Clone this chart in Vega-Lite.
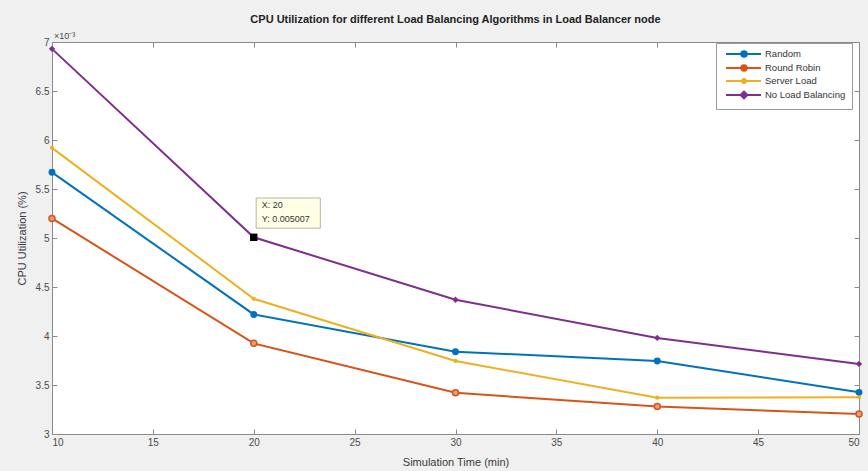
{
  "$schema": "https://vega.github.io/schema/vega-lite/v6.json",
  "width": 807,
  "height": 392,
  "autosize": "none",
  "padding": {"left": 52, "top": 42, "right": 9, "bottom": 37},
  "background": "#f0f0f0",
  "title": {
    "text": "CPU Utilization for different Load Balancing Algorithms in Load Balancer node",
    "font": "Liberation Sans",
    "fontSize": 11,
    "fontWeight": "bold",
    "color": "#222222",
    "anchor": "middle",
    "offset": 7
  },
  "config": {
    "view": {"fill": "white", "stroke": "#8a8a8a", "strokeWidth": 1},
    "axis": {
      "grid": false,
      "domain": false,
      "tickColor": "#8a8a8a",
      "tickSize": -5,
      "labelFont": "Liberation Sans",
      "labelFontSize": 10,
      "labelColor": "#4a4a4a",
      "titleFont": "Liberation Sans",
      "titleFontSize": 11,
      "titleFontWeight": "normal",
      "titleColor": "#3a3a3a"
    }
  },
  "datasets": {
    "cpu": [
      {"time": 10, "series": "Random", "util": 0.005670},
      {"time": 20, "series": "Random", "util": 0.004220},
      {"time": 30, "series": "Random", "util": 0.003840},
      {"time": 40, "series": "Random", "util": 0.003745},
      {"time": 50, "series": "Random", "util": 0.003425},
      {"time": 10, "series": "Round Robin", "util": 0.005200},
      {"time": 20, "series": "Round Robin", "util": 0.003925},
      {"time": 30, "series": "Round Robin", "util": 0.003420},
      {"time": 40, "series": "Round Robin", "util": 0.003280},
      {"time": 50, "series": "Round Robin", "util": 0.003205},
      {"time": 10, "series": "Server Load", "util": 0.005920},
      {"time": 20, "series": "Server Load", "util": 0.004380},
      {"time": 30, "series": "Server Load", "util": 0.003745},
      {"time": 40, "series": "Server Load", "util": 0.003370},
      {"time": 50, "series": "Server Load", "util": 0.003375},
      {"time": 10, "series": "No Load Balancing", "util": 0.006930},
      {"time": 20, "series": "No Load Balancing", "util": 0.005007},
      {"time": 30, "series": "No Load Balancing", "util": 0.004370},
      {"time": 40, "series": "No Load Balancing", "util": 0.003980},
      {"time": 50, "series": "No Load Balancing", "util": 0.003715}
    ],
    "tip": [{"time": 20, "util": 0.005007}],
    "tipBox": [{"x0": 20.12, "x1": 23.3, "y0": 0.005100, "y1": 0.005408}],
    "tipText": [
      {"time": 20.4, "util": 0.005335, "label": "X: 20"},
      {"time": 20.4, "util": 0.005190, "label": "Y: 0.005007"}
    ],
    "expo": [{"time": 10, "util": 0.007, "label": "×10⁻³"}]
  },
  "layer": [
    {
      "data": {"name": "cpu"},
      "mark": {"type": "line", "strokeWidth": 2},
      "encoding": {
        "x": {
          "field": "time", "type": "quantitative",
          "scale": {"domain": [10, 50], "nice": false, "zero": false},
          "axis": {"values": [10, 15, 20, 25, 30, 35, 40, 45, 50], "title": "Simulation Time (min)", "labelPadding": 8, "titleY": 22}
        },
        "y": {
          "field": "util", "type": "quantitative",
          "scale": {"domain": [0.003, 0.007], "nice": false, "zero": false},
          "axis": {
            "values": [0.003, 0.0035, 0.004, 0.0045, 0.005, 0.0055, 0.006, 0.0065, 0.007],
            "labelExpr": "format(datum.value * 1000, '~g')",
            "labelPadding": 8,
            "title": "CPU Utilization (%)",
            "titleX": -25
          }
        },
        "color": {
          "field": "series", "type": "nominal",
          "scale": {
            "domain": ["Random", "Round Robin", "Server Load", "No Load Balancing"],
            "range": ["#0072BD", "#D95319", "#EDB120", "#7E2F8E"]
          },
          "legend": {
            "title": null,
            "orient": "none",
            "legendX": 664,
            "legendY": 1,
            "direction": "vertical",
            "fillColor": "white",
            "strokeColor": "#9a9a9a",
            "padding": 6,
            "rowPadding": 0,
            "labelFont": "Liberation Sans",
            "labelFontSize": 9.5,
            "labelColor": "#333333",
            "labelOffset": 33,
            "symbolType": "M-0.25,0H8.5M3.55,0A0.7,0.7,0,1,1,4.95,0A0.7,0.7,0,1,1,3.55,0Z",
            "symbolSize": 64,
            "symbolStrokeWidth": 2,
            "encode": {
              "symbols": {
                "update": {
                  "shape": {"signal": "datum.value === 'No Load Balancing' ? 'M-0.25,0H8.5M3.4,0L4.25,-0.85L5.1,0L4.25,0.85Z' : (datum.value === 'Server Load' ? 'M-0.25,0H8.5M3.75,0A0.5,0.5,0,1,1,4.75,0A0.5,0.5,0,1,1,3.75,0Z' : 'M-0.25,0H8.5M3.55,0A0.7,0.7,0,1,1,4.95,0A0.7,0.7,0,1,1,3.55,0Z')"},
                  "size": {"value": 64},
                  "fill": {"scale": "color", "field": "value"},
                  "stroke": {"scale": "color", "field": "value"},
                  "strokeWidth": {"value": 2},
                  "opacity": {"value": 1}
                }
              }
            }
          }
        }
      }
    },
    {
      "data": {"name": "cpu"},
      "transform": [{"filter": "datum.series === 'Random'"}],
      "mark": {"type": "circle", "size": 48, "opacity": 1, "color": "#0072BD"},
      "encoding": {
        "x": {"field": "time", "type": "quantitative", "axis": {"orient": "top", "labels": false, "title": null, "values": [10, 15, 20, 25, 30, 35, 40, 45, 50]}},
        "y": {"field": "util", "type": "quantitative", "axis": {"orient": "right", "labels": false, "title": null, "values": [0.003, 0.0035, 0.004, 0.0045, 0.005, 0.0055, 0.006, 0.0065, 0.007]}}
      }
    },
    {
      "data": {"name": "cpu"},
      "transform": [{"filter": "datum.series === 'Round Robin'"}],
      "mark": {"type": "point", "shape": "circle", "size": 36, "opacity": 1, "filled": false, "fill": "#ec9c78", "stroke": "#D95319", "strokeWidth": 1.5},
      "encoding": {
        "x": {"field": "time", "type": "quantitative", "axis": null},
        "y": {"field": "util", "type": "quantitative", "axis": null}
      }
    },
    {
      "data": {"name": "cpu"},
      "transform": [{"filter": "datum.series === 'Server Load'"}],
      "mark": {"type": "circle", "size": 18, "opacity": 1, "color": "#EDB120"},
      "encoding": {
        "x": {"field": "time", "type": "quantitative", "axis": null},
        "y": {"field": "util", "type": "quantitative", "axis": null}
      }
    },
    {
      "data": {"name": "cpu"},
      "transform": [{"filter": "datum.series === 'No Load Balancing'"}],
      "mark": {"type": "point", "shape": "diamond", "size": 40, "filled": true, "opacity": 1, "color": "#7E2F8E"},
      "encoding": {
        "x": {"field": "time", "type": "quantitative", "axis": null},
        "y": {"field": "util", "type": "quantitative", "axis": null}
      }
    },
    {
      "data": {"name": "tip"},
      "mark": {"type": "square", "color": "black", "size": 55, "opacity": 1},
      "encoding": {
        "x": {"field": "time", "type": "quantitative", "axis": null},
        "y": {"field": "util", "type": "quantitative", "axis": null}
      }
    },
    {
      "data": {"name": "tipBox"},
      "mark": {"type": "rect", "fill": "#ffffe6", "stroke": "#b5b5a0", "strokeWidth": 1},
      "encoding": {
        "x": {"field": "x0", "type": "quantitative", "axis": null},
        "x2": {"field": "x1"},
        "y": {"field": "y0", "type": "quantitative", "axis": null},
        "y2": {"field": "y1"}
      }
    },
    {
      "data": {"name": "tipText"},
      "mark": {"type": "text", "align": "left", "baseline": "middle", "font": "Liberation Sans", "fontSize": 9, "color": "#333333"},
      "encoding": {
        "x": {"field": "time", "type": "quantitative", "axis": null},
        "y": {"field": "util", "type": "quantitative", "axis": null},
        "text": {"field": "label"}
      }
    },
    {
      "data": {"name": "expo"},
      "mark": {"type": "text", "align": "left", "baseline": "bottom", "dx": 2, "dy": -1, "font": "Liberation Sans", "fontSize": 9, "color": "#4a4a4a"},
      "encoding": {
        "x": {"field": "time", "type": "quantitative", "axis": null},
        "y": {"field": "util", "type": "quantitative", "axis": null},
        "text": {"field": "label"}
      }
    }
  ],
  "resolve": {"axis": {"x": "independent", "y": "independent"}}
}
